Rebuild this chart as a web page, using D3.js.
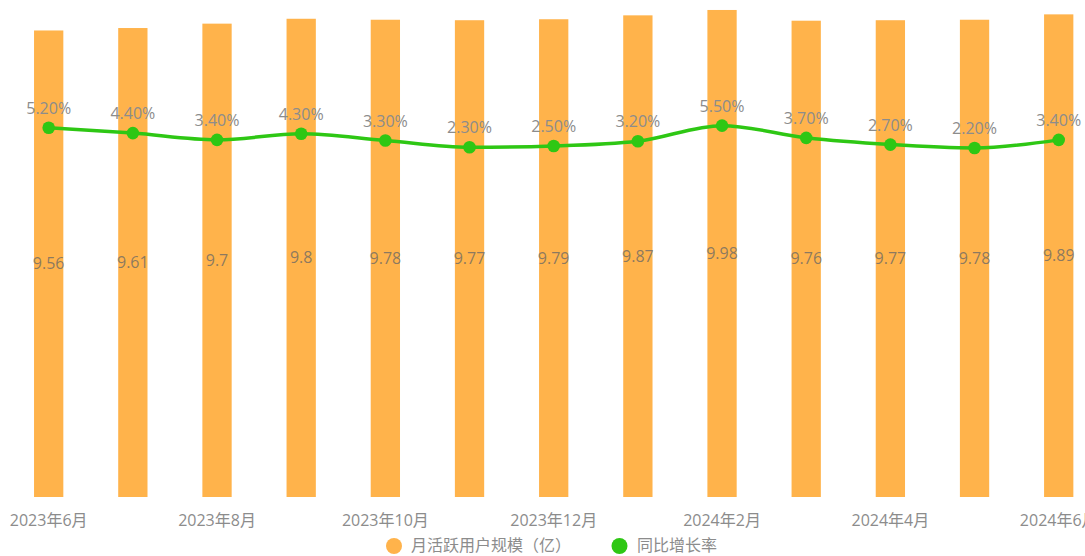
<!DOCTYPE html>
<html>
<head>
<meta charset="utf-8">
<script src="https://cdn.jsdelivr.net/npm/d3@7"></script>
<style>
  html, body { margin: 0; padding: 0; background: #fff; overflow: hidden; }
  svg { display: block; font-family: "Open Sans", "Noto Sans CJK SC", sans-serif; }
</style>
</head>
<body>
<svg id="chart" width="1085" height="556"></svg>
<script>
const categories = ["2023年6月","2023年7月","2023年8月","2023年9月","2023年10月","2023年11月","2023年12月","2024年1月","2024年2月","2024年3月","2024年4月","2024年5月","2024年6月"];
const users = [9.56, 9.61, 9.7, 9.8, 9.78, 9.77, 9.79, 9.87, 9.98, 9.76, 9.77, 9.78, 9.89];
const growth = [5.2, 4.4, 3.4, 4.3, 3.3, 2.3, 2.5, 3.2, 5.5, 3.7, 2.7, 2.2, 3.4];
const xTickLabels = ["2023年6月","2023年8月","2023年10月","2023年12月","2024年2月","2024年4月","2024年6月"];
const seriesNames = ["月活跃用户规模（亿）", "同比增长率"];
const colors = ["#ffb34b", "#2ec714"];

const svg = d3.select("#chart");
const plotTop = 9, plotBottom = 497;

const x = d3.scaleBand().domain(categories).range([6.6, 1100.8]).paddingInner(0.652).paddingOuter(0.326);
const y = d3.scaleLinear().domain([0, 10]).range([plotBottom, plotTop]);
const y2 = d3.scaleLinear().domain([-49.35, 22.73]).range([plotBottom, plotTop]);
const cx = d => x(d) + x.bandwidth() / 2;

// bars
svg.append("g").selectAll("rect").data(users).join("rect")
  .attr("x", (d, i) => x(categories[i]))
  .attr("y", d => y(d))
  .attr("width", x.bandwidth())
  .attr("height", d => y(0) - y(d))
  .attr("fill", colors[0]);

// bar labels
svg.append("g").selectAll("text").data(users).join("text")
  .attr("x", (d, i) => cx(categories[i]))
  .attr("y", d => (y(d) + y(0)) / 2)
  .attr("dy", "0.35em")
  .attr("text-anchor", "middle")
  .attr("font-size", 16)
  .attr("fill", "#666").attr("fill-opacity", 0.75)
  .text(d => d);

// line
const line = d3.line()
  .x((d, i) => cx(categories[i]))
  .y(d => y2(d))
  .curve(d3.curveMonotoneX);
svg.append("path").datum(growth)
  .attr("d", line)
  .attr("fill", "none")
  .attr("stroke", colors[1])
  .attr("stroke-width", 3.5);

svg.append("g").selectAll("circle").data(growth).join("circle")
  .attr("cx", (d, i) => cx(categories[i]))
  .attr("cy", d => y2(d))
  .attr("r", 6.3)
  .attr("fill", colors[1]);

svg.append("g").selectAll("text").data(growth).join("text")
  .attr("x", (d, i) => cx(categories[i]))
  .attr("y", d => y2(d) - 14)
  .attr("text-anchor", "middle")
  .attr("font-size", 16)
  .attr("fill", "#8c8c8c")
  .text(d => d.toFixed(2) + "%");

// x axis labels
const xAxis = d3.axisBottom(x).tickValues(xTickLabels).tickSize(0).tickPadding(0);
const gx = svg.append("g").attr("transform", `translate(0,${plotBottom})`).call(xAxis);
gx.select(".domain").remove();
gx.selectAll("text")
  .attr("y", 23)
  .attr("dy", "0.35em")
  .attr("font-size", 16)
  .attr("font-family", "'Open Sans', 'Noto Sans CJK SC', sans-serif")
  .attr("fill", "#8c8c8c");

// legend
const legend = svg.append("g");
const legendItems = [
  { cx: 394, tx: 411, name: seriesNames[0], color: colors[0] },
  { cx: 619.5, tx: 637, name: seriesNames[1], color: colors[1] }
];
legendItems.forEach(it => {
  legend.append("circle").attr("cx", it.cx).attr("cy", 546).attr("r", 8).attr("fill", it.color);
  legend.append("text").attr("x", it.tx).attr("y", 545).attr("dy", "0.35em")
    .attr("font-size", 16).attr("fill", "#8c8c8c").text(it.name);
});
</script>
</body>
</html>
